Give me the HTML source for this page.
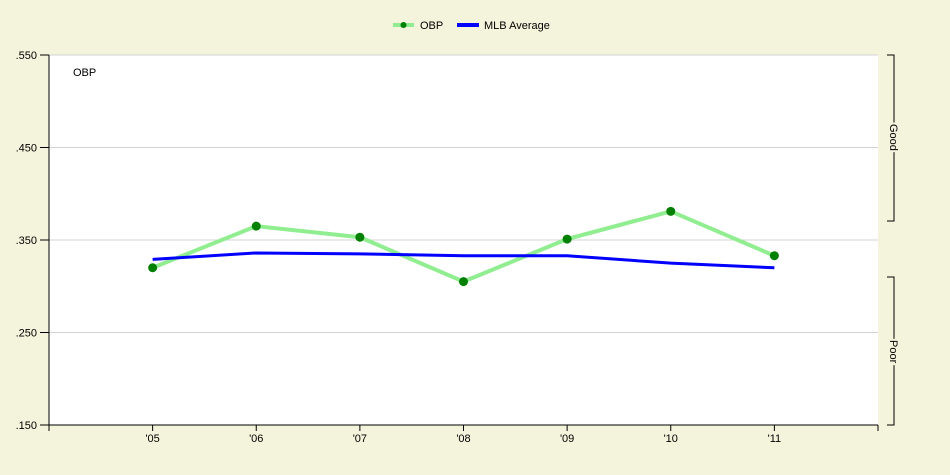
<!DOCTYPE html>
<html><head><meta charset="utf-8"><style>
body{margin:0;background:#f4f4dc;}
svg{display:block;font-family:"Liberation Sans",sans-serif;}
</style></head><body>
<svg width="950" height="475">
<rect x="0" y="0" width="950" height="475" fill="#f4f4dc"/>
<rect x="49" y="55" width="829" height="370" fill="#ffffff"/>
<g id="grid"></g>
<g id="axes"></g>
<g id="series"></g>
<text x="73" y="76" font-size="11" fill="#000">OBP</text>
<g>
  <g>
    <line x1="393" y1="25" x2="414" y2="25" stroke="#90ee90" stroke-width="4"/>
    <circle cx="403.5" cy="25" r="3" fill="#008000"/>
    <text x="420" y="29" font-size="11">OBP</text>
  </g>
  <g>
    <line x1="457" y1="25" x2="479" y2="25" stroke="#0000ff" stroke-width="4"/>
    <text x="484" y="29" font-size="11">MLB Average</text>
  </g>
</g>
<g stroke="#000" fill="none">
  <path d="M887 55 H894 V221 H887"/>
</g>
<text transform="translate(890,124) rotate(90)" font-size="11" style="paint-order:stroke" stroke="#f4f4dc" stroke-width="4">Good</text>
<g stroke="#000" fill="none">
  <path d="M887 277 H894 V425 H887"/>
</g>
<text transform="translate(890,340) rotate(90)" font-size="11" style="paint-order:stroke" stroke="#f4f4dc" stroke-width="4">Poor</text>
</svg>
<script>
const categories=["'05","'06","'07","'08","'09","'10","'11"];
const obpValues=[0.320,0.365,0.353,0.305,0.351,0.381,0.333];
const mlbValues=[0.329,0.336,0.335,0.333,0.333,0.325,0.320];
const yTicks=[0.150,0.250,0.350,0.450,0.550];
const yTickLabels=[".150",".250",".350",".450",".550"];
const NS="http://www.w3.org/2000/svg";
const plotL=49,plotR=878,plotT=55,plotB=425,yMin=0.150,yMax=0.550;
const step=(plotR-plotL)/(categories.length+1);
function xPos(i){return plotL+(i+1)*step;}
function yPos(v){return plotB-(v-yMin)/(yMax-yMin)*(plotB-plotT);}
function mk(tag,attrs,parent){const e=document.createElementNS(NS,tag);for(const k in attrs)e.setAttribute(k,attrs[k]);parent.appendChild(e);return e;}
const grid=document.getElementById('grid'),axes=document.getElementById('axes'),series=document.getElementById('series');
yTicks.forEach((t,i)=>{
  const y=yPos(t);
  if(i>0){const g=mk('line',{x1:plotL,x2:plotR,y1:y,y2:y,stroke:'#d3d3d3'},grid);
  
  }
  const tk=mk('line',{x1:plotL-9,x2:plotL,y1:y,y2:y,stroke:'#000'},axes);
  
  
  const tx=mk('text',{x:plotL-12,y:y+4,'font-size':11,'text-anchor':'end',fill:'#000'},axes);
  tx.textContent=yTickLabels[i];
  
  
});
const ya=mk('line',{x1:plotL,x2:plotL,y1:plotT,y2:plotB+6,stroke:'#000'},axes);


const xa=mk('line',{x1:plotL,x2:plotR,y1:plotB,y2:plotB,stroke:'#000'},axes);


const rt=mk('line',{x1:plotR,x2:plotR,y1:plotB,y2:plotB+6,stroke:'#000'},axes);


categories.forEach((c,i)=>{
  const x=xPos(i);
  const tk=mk('line',{x1:x,x2:x,y1:plotB,y2:plotB+6,stroke:'#000'},axes);
  
  
  const tx=mk('text',{x:x,y:plotB+17,'font-size':11,'text-anchor':'middle',fill:'#000'},axes);
  tx.textContent=c;
  
  
});
const obpLine=mk('polyline',{points:obpValues.map((v,i)=>xPos(i)+','+yPos(v)).join(' '),fill:'none',stroke:'#90ee90','stroke-width':4},series);


const mlbLine=mk('polyline',{points:mlbValues.map((v,i)=>xPos(i)+','+yPos(v)).join(' '),fill:'none',stroke:'#0000ff','stroke-width':3},series);


obpValues.forEach((v,i)=>{
  const p=mk('circle',{cx:xPos(i),cy:yPos(v),r:4.5,fill:'#008000'},series);
  
  
});
</script>
</body></html>
